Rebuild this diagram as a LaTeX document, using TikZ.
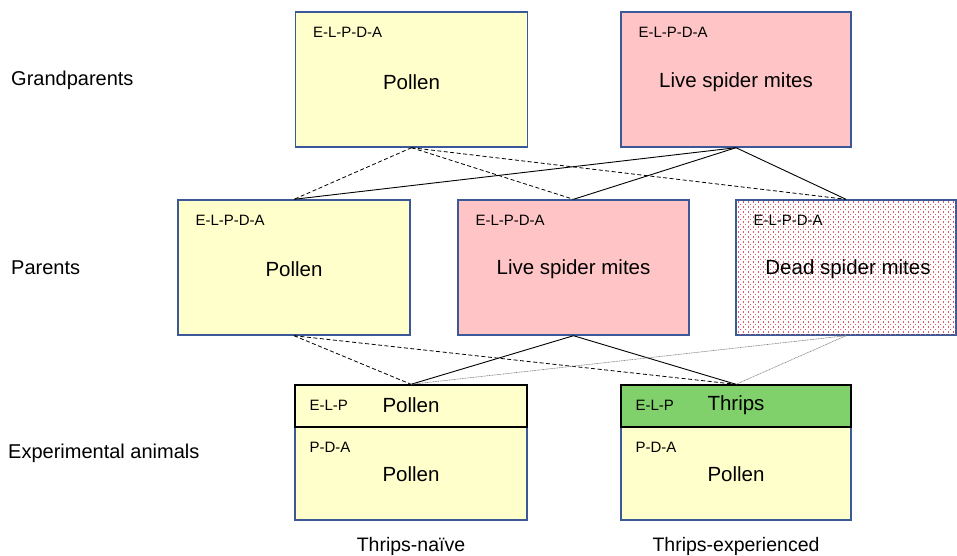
\documentclass[tikz,border=0pt]{standalone}
\usepackage{fontspec}
\setmainfont{Liberation Sans}
\usetikzlibrary{patterns.meta}

\definecolor{pollenfill}{HTML}{FFFFCC}
\definecolor{mitefill}{HTML}{FFC4C6}
\definecolor{thripsfill}{HTML}{80D06C}
\definecolor{boxedge}{HTML}{3B5898}
\definecolor{dotred}{HTML}{E65A66}

% staggered red dots for the dead-mite diet
\tikzdeclarepattern{
  name=mitedots,
  type=uncolored,
  bottom left={(-1pt,-1pt)},
  top right={(6pt,6pt)},
  tile size={(5pt,5pt)},
  code={
    \fill (0pt,0pt) rectangle (1.3pt,1.3pt);
    \fill (2.5pt,2.5pt) rectangle (3.8pt,3.8pt);
  }
}

\tikzset{
  big/.style={font=\fontsize{20.5}{24}\selectfont},
  diet/.style={draw=boxedge, line width=1.4pt, minimum width=#1, minimum height=135pt,
    inner sep=0pt},
  diet/.default=232pt,
  band/.style={draw=black, line width=1.2pt, minimum width=232pt, minimum height=42pt,
    inner sep=0pt, anchor=north},
  stage/.style={anchor=west, inner sep=0pt, font=\fontsize{15}{18}\selectfont},
  rowlabel/.style={anchor=west, inner sep=0pt, font=\fontsize{20}{23}\selectfont},
  pollenlink/.style={line width=0.8pt, dash pattern=on 4pt off 2.5pt},
  livelink/.style={line width=0.9pt},
  deadlink/.style={line width=0.6pt, gray, dash pattern=on 1pt off 0.6pt},
}

\begin{document}
\begin{tikzpicture}[x=1pt, y=-1pt]
\useasboundingbox (0,0) rectangle (957,555);

% row labels
\node[rowlabel] (lgp) at (11,80) {Grandparents};
\node[rowlabel] (lp) at (11,268) {Parents};
\node[rowlabel] (le) at (8,453) {Experimental animals};

% grandparents
\node[diet, fill=pollenfill] (gpp) at (411.5,79.5) {};
\node[diet=230pt, fill=mitefill] (gpm) at (736,79.5) {};
\node[big] at ([yshift=-3pt]gpp.center) {Pollen};
\node[big] at ([yshift=-3pt]gpm.center) {Live spider mites};
\node[stage] at ([xshift=18pt, yshift=-21pt]gpp.north west) {E-L-P-D-A};
\node[stage] at ([xshift=18pt, yshift=-21pt]gpm.north west) {E-L-P-D-A};

% parents
\node[diet, fill=pollenfill] (pp) at (294,267.5) {};
\node[diet=231pt, fill=mitefill] (pm) at (573.5,267.5) {};
\node[diet=220pt, fill=white] (pd) at (846,267.5) {};
\fill[pattern={mitedots}, pattern color=dotred]
  ([xshift=1pt,yshift=-1pt]pd.north west) rectangle ([xshift=-1pt,yshift=1pt]pd.south east);
\node[big] at ([yshift=-2pt]pp.center) {Pollen};
\node[big] at ([yshift=-2pt]pm.center) {Live spider mites};
\node[big] at ([yshift=-2pt, xshift=2pt]pd.center) {Dead spider mites};
\node[stage] at ([xshift=18pt, yshift=-21pt]pp.north west) {E-L-P-D-A};
\node[stage] at ([xshift=18pt, yshift=-21pt]pm.north west) {E-L-P-D-A};
\node[stage] at ([xshift=18pt, yshift=-21pt]pd.north west) {E-L-P-D-A};

% experimental animals
\node[diet, fill=pollenfill] (en) at (411,452.5) {};
\node[diet=230pt, fill=pollenfill] (ee) at (736,452.5) {};
\node[band, fill=pollenfill] (ent) at (en.north) {};
\node[band, minimum width=230pt, fill=thripsfill] (eet) at (ee.north) {};
\node[big] at ([yshift=1pt]ent.center) {Pollen};
\node[big] at ([yshift=1pt]eet.center) {Thrips};
\node[stage] at ([xshift=15pt, yshift=1pt]ent.west) {E-L-P};
\node[stage] at ([xshift=15pt, yshift=1pt]eet.west) {E-L-P};
\node[stage] at ([xshift=15pt, yshift=-20pt]ent.south west) {P-D-A};
\node[stage] at ([xshift=15pt, yshift=-20pt]eet.south west) {P-D-A};
\node[big] at ([yshift=-22pt]en.center) {Pollen};
\node[big] at ([yshift=-22pt]ee.center) {Pollen};

\node[font=\fontsize{19.5}{23}\selectfont] (tn) at (411,546) {Thrips-naïve};
\node[font=\fontsize{19.5}{23}\selectfont] (te) at (736,546) {Thrips-experienced};

% grandparents to parents
\draw[pollenlink] (gpp.south) -- (pp.north);
\draw[pollenlink] (gpp.south) -- (pm.north);
\draw[pollenlink] (gpp.south) -- (pd.north);
\draw[livelink] (gpm.south) -- (pp.north);
\draw[livelink] (gpm.south) -- (pm.north);
\draw[livelink] (gpm.south) -- (pd.north);

% parents to experimental animals
\draw[pollenlink] (pp.south) -- (ent.north);
\draw[pollenlink] (pp.south) -- (eet.north);
\draw[livelink] (pm.south) -- (ent.north);
\draw[livelink] (pm.south) -- (eet.north);
\draw[deadlink] (pd.south) -- (ent.north);
\draw[deadlink] (pd.south) -- (eet.north);
\end{tikzpicture}
\end{document}
